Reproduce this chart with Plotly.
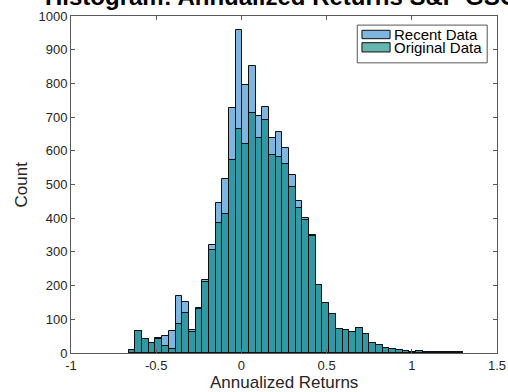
import numpy as np
import plotly.graph_objects as go

# Histogram bins
bin_start = -0.661
bin_width = 0.0392
n_bins = 50

recent_counts = [8, 64, 43, 29, 45, 51, 65, 170, 151, 69,
                 135, 216, 320, 445, 517, 727, 959, 796, 853, 702,
                 730, 638, 656, 608, 528, 450, 400, 349, 202, 149,
                 116, 72, 67, 63, 73, 55, 31, 25, 16, 13,
                 9, 6, 3, 7, 2, 4, 3, 4, 2, 2]
original_counts = [8, 64, 43, 29, 42, 22, 13, 86, 119, 62,
                   131, 211, 306, 386, 412, 573, 665, 621, 711, 638,
                   690, 588, 583, 561, 493, 430, 395, 347, 202, 149,
                   116, 72, 67, 63, 73, 55, 31, 25, 16, 13,
                   9, 6, 3, 7, 2, 4, 3, 4, 2, 2]

x_ticks = [-1, -0.5, 0, 0.5, 1, 1.5]
x_tick_labels = ["-1", "-0.5", "0", "0.5", "1", "1.5"]
y_ticks = list(range(0, 1001, 100))
y_tick_labels = [str(v) for v in y_ticks]

series_names = ["Recent Data", "Original Data"]
series_colors = ["rgba(40,133,203,0.6)", "rgba(0,133,123,0.6)"]

edges = bin_start + bin_width * np.arange(n_bins + 1)
centers = (edges[:-1] + edges[1:]) / 2

FONT = "Liberation Sans, Arial, Helvetica, sans-serif"
TXT = "#262626"
AX = "#5a5a5a"

fig = go.Figure()
for name, counts, col in zip(series_names, [recent_counts, original_counts], series_colors):
    fig.add_trace(go.Bar(
        x=centers, y=counts, width=bin_width, name=name,
        marker=dict(color=col, line=dict(color="rgb(15,15,15)", width=1)),
        showlegend=False,
    ))

fig.update_layout(
    width=508, height=392,
    margin=dict(l=71, r=11, t=16, b=39, autoexpand=False),
    paper_bgcolor="white", plot_bgcolor="white",
    barmode="overlay", bargap=0,
    font=dict(family=FONT, color=TXT, size=13),
    xaxis=dict(range=[-1, 1.5], tickvals=x_ticks, ticktext=x_tick_labels,
               ticks="inside", ticklen=4, tickcolor=AX, showline=True, linecolor=AX,
               linewidth=1, mirror="ticks", showgrid=False, zeroline=False, automargin=False,
               tickfont=dict(size=13, family=FONT, color=TXT)),
    yaxis=dict(range=[0, 1000], tickvals=y_ticks, ticktext=y_tick_labels,
               ticks="inside", ticklen=4, tickcolor=AX, showline=True, linecolor=AX,
               linewidth=1, mirror="ticks", showgrid=False, zeroline=False, automargin=False,
               tickfont=dict(size=13, family=FONT, color=TXT)),
)

# Axis titles
fig.add_annotation(text="Annualized Returns", xref="paper", yref="paper", x=0.5, y=-0.087,
                   xanchor="center", yanchor="middle", showarrow=False, borderpad=0,
                   font=dict(size=17, family=FONT, color=TXT))
fig.add_annotation(text="Count", xref="paper", yref="paper", x=-0.1151, y=0.5,
                   xanchor="center", yanchor="middle", textangle=-90, showarrow=False,
                   font=dict(size=17, family=FONT, color=TXT))

# Title (partially cut off at the top, as in the reference)
fig.add_annotation(text="<b>Histogram: Annualized Returns S&P GSCI</b>",
                   xref="paper", yref="paper", x=0.5, y=1.012, xanchor="center", yanchor="bottom",
                   showarrow=False, font=dict(size=24, family=FONT, color="black"))

# Legend (MATLAB style)
fig.add_shape(type="rect", xref="paper", yref="paper", x0=0.672, x1=0.977, y0=0.861, y1=0.973,
              line=dict(color="#555555", width=1), fillcolor="white", layer="above")
patch_y = [(0.9327, 0.9576), (0.8933, 0.9208)]
text_y = [0.9464, 0.907]
for name, col, (py0, py1), ty in zip(series_names, series_colors, patch_y, text_y):
    fig.add_shape(type="rect", xref="paper", yref="paper", x0=0.683, x1=0.749, y0=py0, y1=py1,
                  line=dict(color="rgb(15,15,15)", width=1), fillcolor=col, layer="above")
    fig.add_annotation(text=name, xref="paper", yref="paper", x=0.756, y=ty,
                       xanchor="left", yanchor="middle", showarrow=False, borderpad=0,
                       font=dict(size=15, family=FONT, color="black"))

fig.write_html("out.html")
